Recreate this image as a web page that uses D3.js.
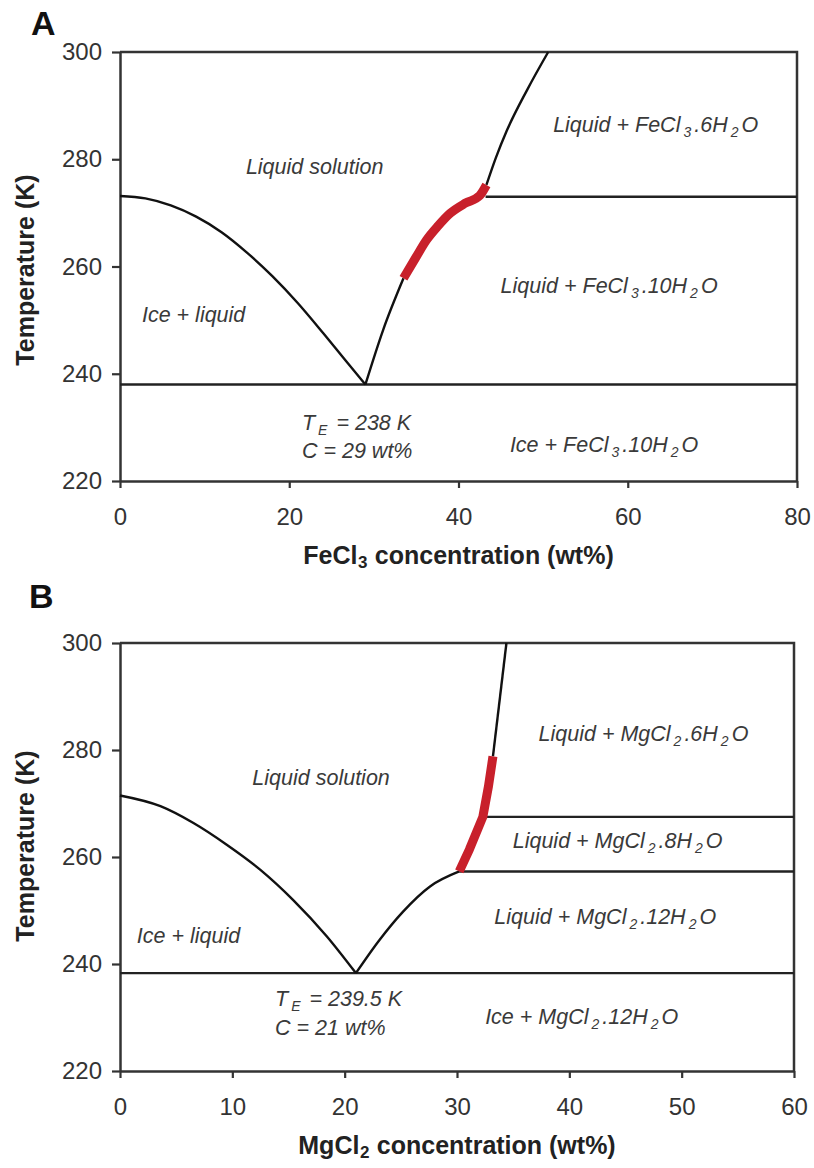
<!DOCTYPE html>
<html><head><meta charset="utf-8">
<script src="https://cdn.jsdelivr.net/npm/d3@7"></script>
<style>body{margin:0;background:#fff}</style>
</head><body><svg id="c" width="814" height="1168"></svg>
<script>
// ---------- DATA ----------
const tempTicks = [220, 240, 260, 280, 300];
const feXTicks = [0, 20, 40, 60, 80];
const mgXTicks = [0, 10, 20, 30, 40, 50, 60];

// Panel A: FeCl3 - H2O
const feIceLiquidus = [[0,273.15],[3,272.7],[6,271.4],[9,269.3],[12,266.4],[15,262.6],[18,258.2],[21,253.2],[24,247.6],[27,241.8],[29,238]];
const feDeca = [[29,238],[31.1,248.2],[33.5,257.8]];
const feRed = [[33.5,257.8],[35,261.8],[36.2,264.9],[37.6,267.6],[39,269.9],[40.8,271.8],[42.5,273.2],[43.3,275.2]];
const feHexa = [[43.3,275.2],[44.4,280.2],[45.7,285.3],[48.1,292.9],[50.6,300]];
const feIsotherms = [[0,80,238],[43.2,80,273]];
const feLabels = ["Liquid solution","Liquid + FeCl_{3}.6H_{2}O","Liquid + FeCl_{3}.10H_{2}O","Ice + FeCl_{3}.10H_{2}O","Ice + liquid","T_{E} = 238 K","C = 29 wt%"];
const feLabelAt = [[23.0,277.3,"middle"],[63.3,285.1,"middle"],[57.8,255.0,"middle"],[57.2,225.5,"middle"],[8.7,249.7,"middle"],[21.5,229.5,"start"],[21.5,224.3,"start"]];

// Panel B: MgCl2 - H2O
const mgIceLiquidus = [[0,271.5],[3.6,269.5],[6.5,266.4],[9.5,262.3],[12.5,257.6],[15.4,252],[18.4,245.2],[21,238.3]];
const mgDodeca = [[21,238.3],[23.1,244.5],[25.2,249.8],[27.6,254.5],[30.2,257.3]];
const mgRed = [[30.2,257.3],[31.1,261.4],[32.3,267.5],[32.8,273.2],[33.2,278.8]];
const mgHexa = [[33.2,278.8],[34.4,300]];
const mgIsotherms = [[0,60,238.3],[30.2,60,257.3],[32.3,60,267.5]];
const mgLabels = ["Liquid solution","Liquid + MgCl_{2}.6H_{2}O","Liquid + MgCl_{2}.8H_{2}O","Liquid + MgCl_{2}.12H_{2}O","Ice + MgCl_{2}.12H_{2}O","Ice + liquid","T_{E} = 239.5 K","C = 21 wt%"];
const mgLabelAt = [[17.9,273.5,"middle"],[46.6,281.6,"middle"],[44.3,261.7,"middle"],[43.2,247.4,"middle"],[41.1,228.7,"middle"],[6.1,244.0,"middle"],[13.8,232.1,"start"],[13.8,226.8,"start"]];

// ---------- DRAW ----------
const svg = d3.select("#c");
const FONT = "'Liberation Sans', Arial, Helvetica, sans-serif";

function rich(textSel, str, subSize, gap, drop) {
  const parts = str.split(/(_\{[^}]*\})/).filter(s => s.length);
  let prevSub = false;
  parts.forEach(p => {
    const m = p.match(/^_\{([^}]*)\}$/);
    if (m) {
      textSel.append("tspan").attr("dx", gap).attr("dy", drop).style("font-size", subSize + "px").text(m[1]);
      prevSub = true;
    } else {
      const t = textSel.append("tspan").text(p);
      if (prevSub) t.attr("dx", gap).attr("dy", -drop);
      prevSub = false;
    }
  });
}

function panel(o) {
  const g = svg.append("g");
  const x = d3.scaleLinear().domain([o.xTicks[0], o.xTicks[o.xTicks.length-1]]).range([o.left, o.right]);
  const y = d3.scaleLinear().domain([tempTicks[0], tempTicks[tempTicks.length-1]]).range([o.bottom, o.top]);
  const line = d3.line().x(d => x(d[0])).y(d => y(d[1]));

  g.append("path")
    .attr("d", `M${o.left},${o.top}H${o.right}V${o.bottom}`)
    .attr("fill", "none").attr("stroke", "#333").attr("stroke-width", 2.5);

  const xa = g.append("g").attr("transform", `translate(0,${o.bottom})`)
    .call(d3.axisBottom(x).tickValues(o.xTicks).tickSize(7).tickSizeOuter(0).tickPadding(20).tickFormat(d3.format("d")));
  const ya = g.append("g").attr("transform", `translate(${o.left},0)`)
    .call(d3.axisLeft(y).tickValues(tempTicks).tickSize(8).tickSizeOuter(0).tickPadding(10).tickFormat(d3.format("d")));
  [xa, ya].forEach(a => {
    a.select(".domain").attr("stroke", "#333").attr("stroke-width", 2.5);
    a.selectAll(".tick line").attr("stroke", "#333").attr("stroke-width", 2.2);
    a.selectAll(".tick text").style("font-family", FONT).style("font-size", "24px").attr("fill", "#333");
  });

  o.isotherms.forEach(d => {
    g.append("path").attr("d", line.curve(d3.curveLinear)([[d[0], d[2]], [d[1], d[2]]]))
      .attr("fill", "none").attr("stroke", "#222").attr("stroke-width", 2.4);
  });
  o.curves.forEach(c => {
    g.append("path").attr("d", line.curve(d3.curveMonotoneX)(c))
      .attr("fill", "none").attr("stroke", "#111").attr("stroke-width", 2.4);
  });
  g.append("path").attr("d", line.curve(o.redCurve)(o.red))
    .attr("fill", "none").attr("stroke", "#c8202b").attr("stroke-width", 9)
    .attr("stroke-linejoin", "round");

  o.labels.forEach((s, i) => {
    const p = o.labelAt[i];
    const t = g.append("text").attr("x", x(p[0])).attr("y", y(p[1]))
      .attr("text-anchor", p[2]).style("font-family", FONT).style("font-style", "italic")
      .style("font-size", "21.5px").attr("fill", "#3a3a3a");
    rich(t, s, 14, 3, 5);
  });

  const xt = g.append("text").attr("x", (o.left + o.right) / 2).attr("y", o.bottom + 83)
    .attr("text-anchor", "middle").style("font-family", FONT).style("font-weight", "bold")
    .style("font-size", "25px").attr("fill", "#222");
  rich(xt, o.xTitle, 17, 0.5, 4);
  g.append("text").attr("transform", `translate(34,${o.yTitleY}) rotate(-90)`)
    .attr("text-anchor", "middle").style("font-family", FONT).style("font-weight", "bold")
    .style("font-size", "25px").attr("fill", "#222").text("Temperature (K)");
  g.append("text").attr("x", o.letterX).attr("y", o.letterY)
    .style("font-family", FONT).style("font-weight", "bold").style("font-size", "34px")
    .attr("fill", "#111").text(o.letter);
}

panel({
  letter: "A", letterX: 31, letterY: 35,
  left: 120, right: 797, top: 52, bottom: 481,
  xTicks: feXTicks, isotherms: feIsotherms,
  curves: [feIceLiquidus, feDeca, feHexa], red: feRed, redCurve: d3.curveMonotoneX,
  labels: feLabels, labelAt: feLabelAt,
  xTitle: "FeCl_{3} concentration (wt%)", yTitleY: 270
});
panel({
  letter: "B", letterX: 29, letterY: 608,
  left: 120, right: 794, top: 643, bottom: 1071,
  xTicks: mgXTicks, isotherms: mgIsotherms,
  curves: [mgIceLiquidus, mgDodeca, mgHexa], red: mgRed, redCurve: d3.curveLinear,
  labels: mgLabels, labelAt: mgLabelAt,
  xTitle: "MgCl_{2} concentration (wt%)", yTitleY: 846
});
</script></body></html>
